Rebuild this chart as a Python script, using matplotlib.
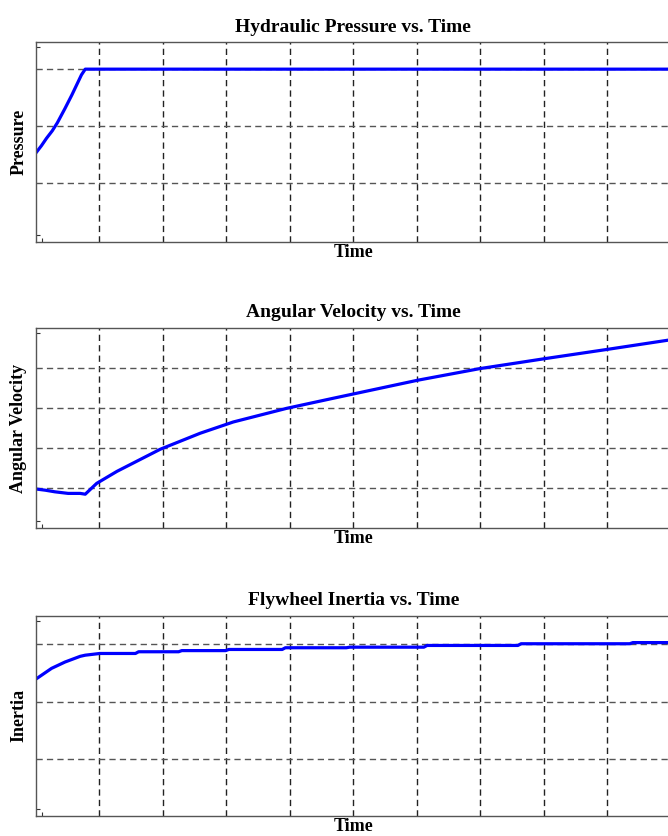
import numpy as np
import matplotlib
matplotlib.use("Agg")
import matplotlib.pyplot as plt

# values (time in grid units 0..10)
pressure_t = [0.0, 0.09, 0.17, 0.26, 0.34, 0.46, 0.57, 0.66, 0.72, 0.78, 10.0]
pressure_v = [1.53, 1.66, 1.79, 1.92, 2.06, 2.31, 2.55, 2.76, 2.90, 3.0, 3.0]

velocity_t = [0.0, 0.15, 0.30, 0.51, 0.70, 0.78, 0.96, 1.28, 1.96, 2.59, 3.11,
              3.95, 4.68, 6.01, 6.99, 8.02, 9.0, 10.0]
velocity_v = [0.98, 0.95, 0.91, 0.87, 0.87, 0.85, 1.12, 1.42, 1.97, 2.37, 2.65,
              2.99, 3.24, 3.69, 3.98, 4.23, 4.46, 4.70]

inertia_t = [0.0, 0.25, 0.46, 0.70, 0.78, 1.01, 1.57, 1.62, 2.25, 2.30, 2.99, 3.04,
             3.88, 3.93, 4.89, 4.94, 6.11, 6.16, 7.59, 7.64, 9.35, 9.40, 10.0]
inertia_v = [2.39, 2.58, 2.69, 2.79, 2.81, 2.84, 2.84, 2.87, 2.87, 2.89, 2.89, 2.91,
             2.91, 2.94, 2.94, 2.95, 2.95, 2.98, 2.98, 3.01, 3.01, 3.03, 3.03]

titles = ["Hydraulic Pressure vs. Time", "Angular Velocity vs. Time", "Flywheel Inertia vs. Time"]
ylabels = ["Pressure", "Angular Velocity", "Inertia"]
series = [(pressure_t, pressure_v), (velocity_t, velocity_v), (inertia_t, inertia_v)]
ylims = [(-0.03, 3.47), (0, 5), (0, 3.5)]
ygrids = [[1, 2, 3], [1, 2, 3, 4], [1, 2, 3]]

W, H = 668, 836
fig = plt.figure(figsize=(W / 100, H / 100), dpi=100)

# axes boxes in pixels: left, top, right, bottom
boxes = [(35.7, 42.3, 671, 242.3), (35.7, 327.7, 671, 528.3), (35.7, 615.7, 671, 816)]

serif = "Liberation Serif"
for i, (l, t, r, b) in enumerate(boxes):
    ax = fig.add_axes([l / W, 1 - b / H, (r - l) / W, (b - t) / H])
    x, y = series[i]
    ax.plot(x, y, color="#0000ff", lw=2.3, solid_joinstyle="round")
    ax.set_xlim(0, 10)
    ax.set_ylim(*ylims[i])
    ax.set_xticks(range(1, 10))
    ax.set_yticks(ygrids[i])
    ax.tick_params(length=0, labelbottom=False, labelleft=False)
    for xv in range(1, 10):
        ax.axvline(xv, color="#222222", lw=1, ls=(0, (4.5, 3)), zorder=0)
    for yv in ygrids[i]:
        ax.axhline(yv, color="#555555", lw=1, ls=(0, (4.5, 3)), zorder=0)
    # little inner tick marks near the corners
    lo, hi = ylims[i]
    span = hi - lo
    ax.set_yticks([lo + 0.035 * span, hi - 0.025 * span], minor=True)
    ax.set_xticks([0.1], minor=True)
    ax.tick_params(which="minor", direction="in", length=3, width=0.8, color="#333333",
                   labelbottom=False, labelleft=False)
    for s in ax.spines.values():
        s.set_color("#555555")
        s.set_linewidth(1.0)
    ax.set_title(titles[i], fontfamily=serif, fontweight="bold", fontsize=14, pad=7.5)
    ax.set_xlabel("Time", fontfamily=serif, fontweight="bold", fontsize=13, labelpad=1.5)
    ax.set_ylabel(ylabels[i], fontfamily=serif, fontweight="bold", fontsize=13, labelpad=6)

fig.savefig("out.png", dpi=100)
